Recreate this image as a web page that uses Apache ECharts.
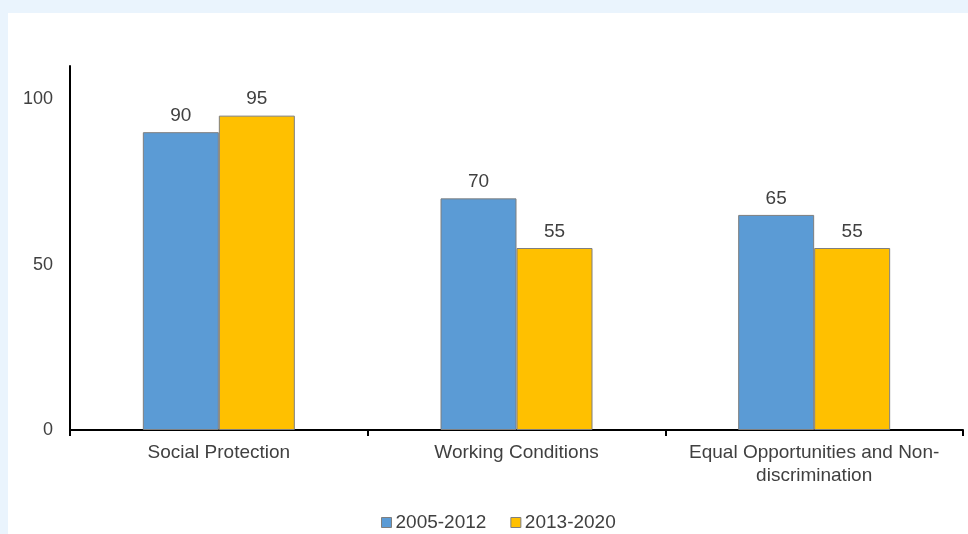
<!DOCTYPE html>
<html>
<head>
<meta charset="utf-8">
<script src="https://cdn.jsdelivr.net/npm/echarts@6/dist/echarts.min.js"></script>
<style>
  html, body { margin: 0; padding: 0; background: #eaf4fd; }
  #panel { position: absolute; left: 8px; top: 13px; right: 0; bottom: 0; background: #ffffff; }
  #chart { position: absolute; left: 0; top: 0; width: 968px; height: 534px; }
</style>
</head>
<body>
<div id="panel"></div>
<div id="chart"></div>
<script>
const categories = ['Social Protection', 'Working Conditions', 'Equal Opportunities and Non-\ndiscrimination'];
const seriesNames = ['2005-2012', '2013-2020'];
const values2005 = [90, 70, 65];
const values2013 = [95, 55, 55];
const colors = ['#5b9bd5', '#ffc000'];

const textColor = '#404040';
const font = 'Liberation Sans, Arial, sans-serif';

const chart = echarts.init(document.getElementById('chart'), null, { renderer: 'canvas' });

function barSeries(name, data, color) {
  return {
    name: name,
    type: 'bar',
    data: data,
    barWidth: 76,
    barGap: '0%',
    itemStyle: { color: color, borderColor: '#7f7f7f', borderWidth: 1 },
    label: {
      show: true,
      position: 'top',
      distance: 7,
      color: textColor,
      fontFamily: font,
      fontSize: 19
    }
  };
}

chart.setOption({
  backgroundColor: 'transparent',
  animation: false,
  color: colors,
  grid: { left: 70, right: 5, top: 66, bottom: 104, containLabel: false },
  legend: {
    top: 508,
    left: 376,
    itemWidth: 10,
    itemHeight: 10,
    itemGap: 24,
    icon: 'rect',
    itemStyle: { borderColor: '#7f7f7f', borderWidth: 1 },
    textStyle: { color: textColor, fontFamily: font, fontSize: 19, padding: [0, 0, 0, -1] },
    data: seriesNames
  },
  xAxis: {
    type: 'category',
    data: categories,
    axisLine: { lineStyle: { color: '#000000', width: 2 } },
    axisTick: { show: true, length: 6, lineStyle: { color: '#000000', width: 2 } },
    axisLabel: { color: textColor, fontFamily: font, fontSize: 19, margin: 11, lineHeight: 23, interval: 0 }
  },
  yAxis: {
    type: 'value',
    min: 0,
    max: 110,
    interval: 50,
    axisLine: { show: true, lineStyle: { color: '#000000', width: 2 } },
    axisTick: { show: false },
    splitLine: { show: false },
    axisLabel: { color: textColor, fontFamily: font, fontSize: 18, margin: 17, showMaxLabel: false }
  },
  series: [
    barSeries(seriesNames[0], values2005, colors[0]),
    barSeries(seriesNames[1], values2013, colors[1])
  ]
});
</script>
</body>
</html>
